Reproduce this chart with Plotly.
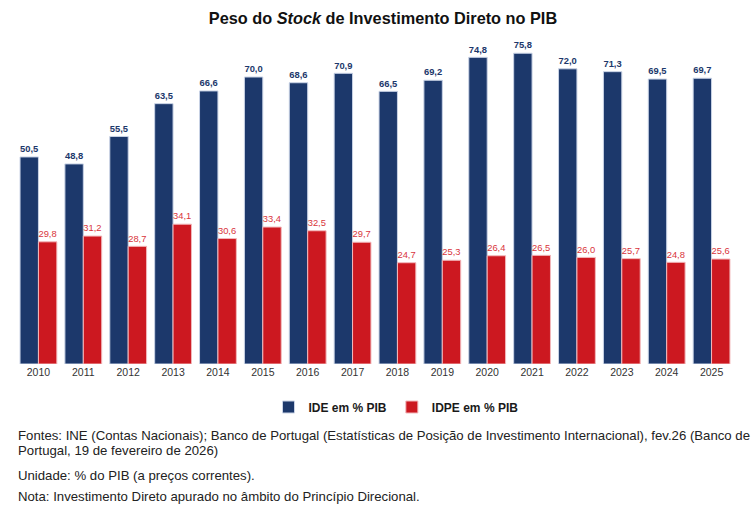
import plotly.graph_objects as go

years = [str(y) for y in range(2010, 2026)]
ide = [50.5, 48.8, 55.5, 63.5, 66.6, 70.0, 68.6, 70.9, 66.5, 69.2, 74.8, 75.8, 72.0, 71.3, 69.5, 69.7]
idpe = [29.8, 31.2, 28.7, 34.1, 30.6, 33.4, 32.5, 29.7, 24.7, 25.3, 26.4, 26.5, 26.0, 25.7, 24.8, 25.6]

title = "Peso do <i>Stock</i> de Investimento Direto no PIB"
notes = [
    "Fontes: INE (Contas Nacionais); Banco de Portugal (Estatísticas de Posição de Investimento Internacional), fev.26 (Banco de",
    "Portugal, 19 de fevereiro de 2026)",
    "Unidade: % do PIB (a preços correntes).",
    "Nota: Investimento Direto apurado no âmbito do Princípio Direcional.",
]

NAVY = "#1C386B"
RED = "#CC1820"
FONT = "Liberation Sans, Arial, sans-serif"

fig = go.Figure()
fig.add_trace(go.Bar(
    x=years, y=ide, name="IDE em % PIB",
    marker=dict(color=NAVY, line=dict(color="#C9D3E6", width=1)),
    texttemplate="%{y:.1f}", textposition="outside", cliponaxis=False,
    textfont=dict(color=NAVY, size=10.5, family=FONT, weight="bold"),
))
fig.add_trace(go.Bar(
    x=years, y=idpe, name="IDPE em % PIB",
    marker=dict(color=RED, line=dict(color="#F2B8BB", width=1)),
    texttemplate="%{y:.1f}", textposition="outside", cliponaxis=False,
    textfont=dict(color="#D9343B", size=10.5, family=FONT),
))

ys_px = [435, 451, 475, 496]
for t, yy in zip(notes, ys_px):
    fig.add_annotation(text=t, xref="paper", yref="paper", x=-0.0, xanchor="left",
                       y=(364 - yy) / 328, yanchor="middle", showarrow=False,
                       font=dict(family=FONT, size=13.2, color="#222222"))

fig.update_layout(
    width=751, height=505,
    margin=dict(l=16, r=17, t=36, b=141, autoexpand=False),
    paper_bgcolor="white", plot_bgcolor="white",
    separators=",.",
    barmode="group", bargap=0.18, bargroupgap=0.0,
    title=dict(text=title, xref="paper", x=(383 - 16) / 718, xanchor="center",
               yref="container", y=1 - 18 / 505, yanchor="middle",
               font=dict(family=FONT, size=16.3, color="#111111", weight="bold")),
    showlegend=True,
    legend=dict(orientation="h", xref="paper", x=(396 - 16) / 718, xanchor="center",
                yref="container", y=1 - 407 / 505, yanchor="middle",
                font=dict(family=FONT, size=12, color="#1a1a1a", weight="bold"),
                itemwidth=30, traceorder="normal"),
    xaxis=dict(showgrid=False, showline=False, zeroline=False, ticks="",
               tickfont=dict(family=FONT, size=10.5, color="#333333")),
    yaxis=dict(range=[0, 80], visible=False, showgrid=False, zeroline=False),
)

fig.write_html("out.html", config={"displayModeBar": False},
               post_script="document.body.style.margin='0px';")
